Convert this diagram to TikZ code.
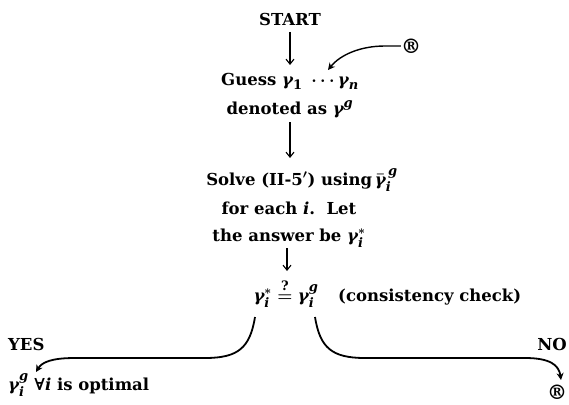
\documentclass[tikz,border=0pt]{standalone}
\usepackage{fontspec}
\usepackage{amsmath}
\setmainfont{DejaVu Serif}
\DeclareMathSizes{16.5}{18}{13}{10}
\newcommand\gm{\text{\itshape γ}}
\newcommand\vi{\text{\itshape i}}
\newcommand\vg{\text{\itshape g}}
\newcommand\vn{\text{\itshape n}}
\newcommand\vone{\text{1}}
\usetikzlibrary{arrows.meta}
\begin{document}
\begin{tikzpicture}[x=1pt,y=-1pt,
  txt/.style={inner sep=0pt, font=\fontsize{16.5}{19}\selectfont\bfseries\boldmath, anchor=base},
  regmark/.style={inner sep=0pt, font=\fontsize{20}{20}\selectfont\bfseries},
  varrow/.style={line width=1.1pt, -{Straight Barb[length=5pt,width=8pt]}},
  carrow/.style={line width=1.8pt, -{Stealth[length=7pt,width=7pt]}},
  tarrow/.style={line width=1.4pt, -{Stealth[length=7pt,width=7pt]}}]
\useasboundingbox[fill=white] (0,0) rectangle (569,404);
\node[txt] (start) at (290,26) {START};
\node[txt] (guess) at (290,85) {Guess $\gm_{\vone}\;\cdots\gm_{\vn}$};
\node[txt] (denot) at (290,114) {denoted as $\gm^{\vg}$};
\node[txt] (solve) at (302,185) {Solve (II-5$'$) using\,$\bar{\gm}_{\vi}^{\,\vg}$};
\node[txt] (each) at (289,214) {for each \textit{i}.\ \ Let};
\node[txt] (answer) at (289,241) {the answer be $\gm_{\vi}^{*}$};
\node[txt] (eq) at (286,301) {$\gm_{\vi}^{*}\stackrel{\text{?}}{=}\gm_{\vi}^{\vg}$};
\node[txt, anchor=base west] (cons) at (338,301) {(consistency check)};
\node[txt, anchor=base west] (yes) at (8,350) {YES};
\node[txt, anchor=base east] (no) at (567,350) {NO};
\node[txt, anchor=base west] (opt) at (8,390) {$\gm_{\vi}^{\vg}$ ∀\textit{i} is optimal};
\node[regmark] (rtop) at (411,46) {®};
\node[regmark] (rbot) at (557,392) {®};
\coordinate (gtip) at (328,70);
\coordinate (ls) at (255,317);
\coordinate (lt) at (36,372);
\coordinate (rs) at (315,317);
\coordinate (rt) at (561,380);
\draw[varrow] (start.south |- 0,32) -- (start.south |- 0,65);
\draw[varrow] (denot.south |- 0,122) -- (denot.south |- 0,158);
\draw[varrow] (287,248) -- (287,271);
\draw[tarrow] (rtop.west) -- (385,46) .. controls (360,46) and (340,55) .. (gtip);
\draw[carrow] (ls) .. controls (250,348) and (238,358) .. (205,358) -- (75,358) .. controls (52,358) and (42,362) .. (lt);
\draw[carrow] (rs) .. controls (320,348) and (332,358) .. (365,358) -- (525,358) .. controls (550,358) and (559,365) .. (rt);
\end{tikzpicture}
\end{document}
